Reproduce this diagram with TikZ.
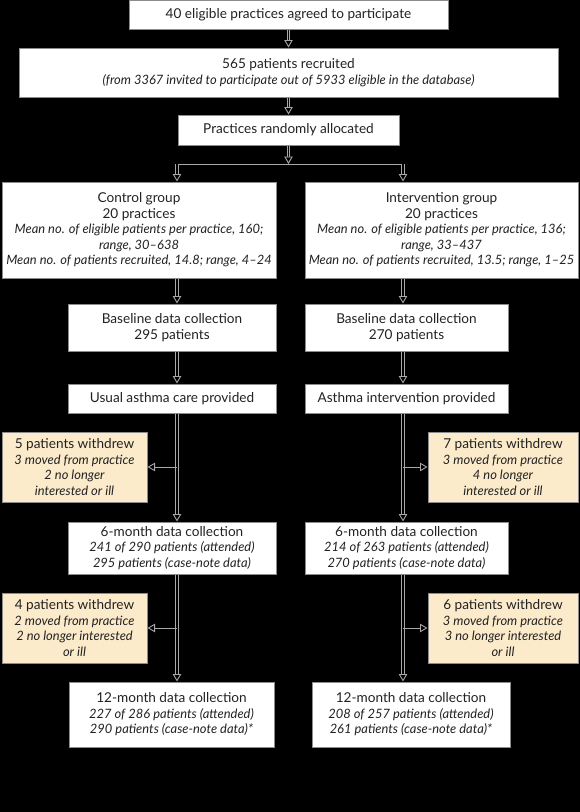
\documentclass[tikz,border=0pt]{standalone}
\usepackage{fontspec}
\setmainfont{Lato}
\usetikzlibrary{arrows.meta,calc}
\definecolor{lgray}{HTML}{A8A8A8}
\definecolor{bgray}{HTML}{8C8C8C}
\definecolor{tanfill}{HTML}{FCEBCB}
\definecolor{ink}{HTML}{222222}
\newcommand{\rgf}{\fontsize{13.6}{15.5}\selectfont\upshape}
\newcommand{\itl}[1]{{\fontsize{12.9}{15}\selectfont\itshape #1}}
\newcommand{\conn}[2]{\draw[trunk] (#1) -- (#2); \draw[tipto] ($(#2)+(0,-7.5)$) -- (#2);}
\begin{document}
\begin{tikzpicture}[x=1pt,y=-1pt,
  box/.style={draw=bgray, line width=1pt, fill=white, text=ink, align=center, inner sep=0pt, font=\rgf},
  wd/.style={box, fill=tanfill},
  trunk/.style={draw=lgray, line width=0.9pt, double=black, double distance=1.4pt, shorten >=6.5pt},
  tipto/.style={draw=lgray, line width=0.9pt, -{Triangle[length=7.5pt,width=8.5pt,fill=black]}},
  branch/.style={draw=lgray, line width=0.9pt, -{Triangle[length=7.5pt,width=8.5pt,fill=black]}},
  hline/.style={draw=lgray, line width=0.9pt}
]
\fill[black] (0,0) rectangle (580,812);
\useasboundingbox (0,0) rectangle (580,812);

\node[box, minimum width=319pt, minimum height=29pt] (b1) at (288.5,15) {40 eligible practices agreed to participate};
\node[box, minimum width=539pt, minimum height=49pt] (b2) at (288.5,72.5) {565 patients recruited\\ \itl{(from 3367 invited to participate out of 5933 eligible in the database)}};
\node[box, minimum width=221pt, minimum height=30pt] (b3) at (288.5,130) {Practices randomly allocated};

\node[box, minimum width=274pt, minimum height=96pt] (ctrl) at (139,230) {Control group\\ 20 practices\\ \itl{Mean no. of eligible patients per practice, 160;}\\ \itl{range, 30–638}\\ \itl{Mean no. of patients recruited, 14.8; range, 4–24}};
\node[box, minimum width=273pt, minimum height=96pt] (intv) at (441.5,230) {Intervention group\\ 20 practices\\ \itl{Mean no. of eligible patients per practice, 136;}\\ \itl{range, 33–437}\\ \itl{Mean no. of patients recruited, 13.5; range, 1–25}};

\node[box, minimum width=208pt, minimum height=47pt] (bl) at (172,327.5) {Baseline data collection\\ 295 patients};
\node[box, minimum width=203pt, minimum height=47pt] (br) at (406.5,327.5) {Baseline data collection\\ 270 patients};

\node[box, minimum width=208pt, minimum height=29pt] (uc) at (172,398.5) {Usual asthma care provided};
\node[box, minimum width=203pt, minimum height=29pt] (ai) at (406.5,398.5) {Asthma intervention provided};

\node[wd, minimum width=145pt, minimum height=70pt] (wl1) at (74.5,467) {5 patients withdrew\\ \itl{3 moved from practice}\\ \itl{2 no longer}\\ \itl{interested or ill}};
\node[wd, minimum width=150pt, minimum height=70pt] (wr1) at (503,467) {7 patients withdrew\\ \itl{3 moved from practice}\\ \itl{4 no longer}\\ \itl{interested or ill}};

\node[box, minimum width=208pt, minimum height=52pt] (m6l) at (172,548) {6-month data collection\\ \itl{241 of 290 patients (attended)}\\ \itl{295 patients (case-note data)}};
\node[box, minimum width=203pt, minimum height=52pt] (m6r) at (406.5,548) {6-month data collection\\ \itl{214 of 263 patients (attended)}\\ \itl{270 patients (case-note data)}};

\node[wd, minimum width=145pt, minimum height=70pt] (wl2) at (74.5,628) {4 patients withdrew\\ \itl{2 moved from practice}\\ \itl{2 no longer interested}\\ \itl{or ill}};
\node[wd, minimum width=150pt, minimum height=70pt] (wr2) at (503,628) {6 patients withdrew\\ \itl{3 moved from practice}\\ \itl{3 no longer interested}\\ \itl{or ill}};

\node[box, minimum width=205pt, minimum height=65pt] (m12l) at (171.5,714.5) {12-month data collection\\ \itl{227 of 286 patients (attended)}\\ \itl{290 patients (case-note data)*}};
\node[box, minimum width=198pt, minimum height=65pt] (m12r) at (411,714.5) {12-month data collection\\ \itl{208 of 257 patients (attended)}\\ \itl{261 patients (case-note data)*}};

% trunk coordinates
\coordinate (TC) at (288.5,164);
\coordinate (TL) at (177,164);
\coordinate (TR) at (403,164);
\path (ctrl.north -| TL) coordinate (cN) (ctrl.south -| TL) coordinate (cS)
      (bl.north -| TL) coordinate (blN) (bl.south -| TL) coordinate (blS)
      (uc.north -| TL) coordinate (ucN) (uc.south -| TL) coordinate (ucS)
      (m6l.north -| TL) coordinate (m6lN) (m6l.south -| TL) coordinate (m6lS)
      (m12l.north -| TL) coordinate (m12lN)
      (wl1.east -| TL) coordinate (wl1J) (wl2.east -| TL) coordinate (wl2J);
\path (intv.north -| TR) coordinate (iN) (intv.south -| TR) coordinate (iS)
      (br.north -| TR) coordinate (brN) (br.south -| TR) coordinate (brS)
      (ai.north -| TR) coordinate (aiN) (ai.south -| TR) coordinate (aiS)
      (m6r.north -| TR) coordinate (m6rN) (m6r.south -| TR) coordinate (m6rS)
      (m12r.north -| TR) coordinate (m12rN)
      (wr1.west -| TR) coordinate (wr1J) (wr2.west -| TR) coordinate (wr2J);

\conn{b1.south}{b2.north}
\conn{b2.south}{b3.north}
\conn{b3.south}{TC}
\draw[hline] (TL) -- (TR);
\conn{TL}{cN}
\conn{TR}{iN}
\conn{cS}{blN}
\conn{iS}{brN}
\conn{blS}{ucN}
\conn{brS}{aiN}
\conn{ucS}{m6lN}
\conn{aiS}{m6rN}
\conn{m6lS}{m12lN}
\conn{m6rS}{m12rN}
\draw[branch] (wl1J) -- (wl1.east);
\draw[branch] (wr1J) -- (wr1.west);
\draw[branch] (wl2J) -- (wl2.east);
\draw[branch] (wr2J) -- (wr2.west);
\end{tikzpicture}
\end{document}
